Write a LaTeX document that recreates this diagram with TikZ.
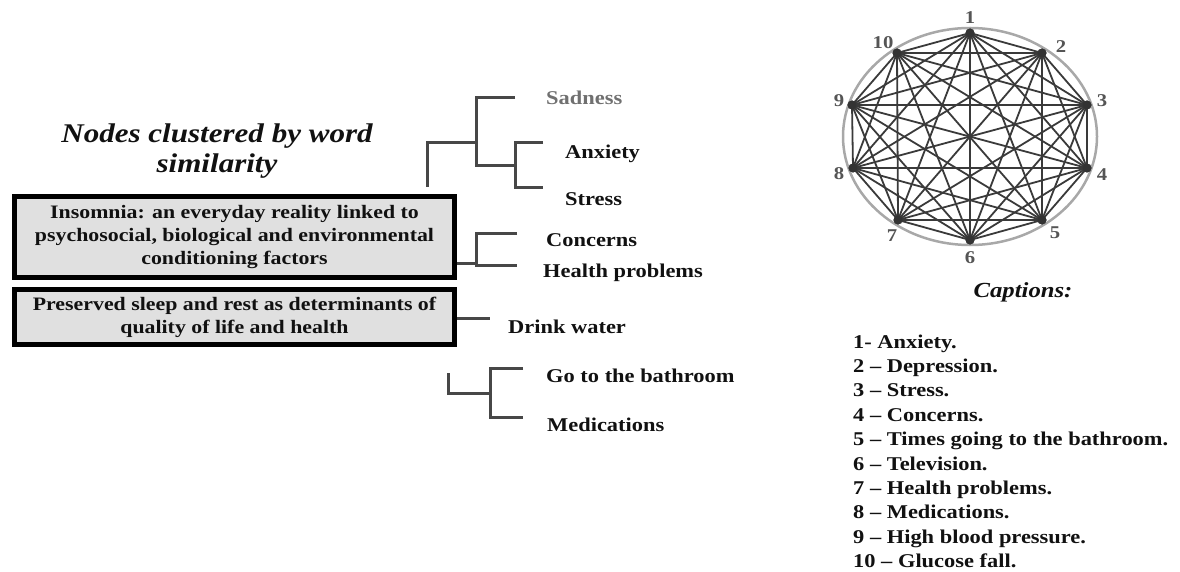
\documentclass[tikz,border=0pt]{standalone}
\usepackage{fontspec}
\setmainfont{Liberation Serif}[FakeStretch=1.15]
\definecolor{treegray}{HTML}{474747}
\definecolor{boxgray}{HTML}{E0E0E0}
\definecolor{edgegray}{HTML}{3A3A3A}
\definecolor{ellgray}{HTML}{A8A8A8}
\definecolor{numgray}{HTML}{555555}
\definecolor{sadgray}{HTML}{707070}
\definecolor{ink}{HTML}{111111}
\begin{document}
\begin{tikzpicture}[x=1pt,y=-1pt,
  lbl/.style={anchor=base west, inner sep=0pt, text=ink, font=\fontsize{19.5}{23}\selectfont\bfseries},
  tree/.style={draw=treegray, line width=3pt},
  box/.style={draw=black, line width=5pt, fill=boxgray, align=center, inner sep=0pt,
    minimum width=440pt, text=ink, font=\fontsize{19}{23}\selectfont\bfseries},
  ttl/.style={anchor=base, inner sep=0pt, text=ink, font=\fontsize{27}{32}\selectfont\bfseries\itshape},
  gnode/.style={circle, fill=black!80, inner sep=0pt, minimum size=9pt},
  edge/.style={draw=edgegray, line width=1.8pt},
  num/.style={inner sep=0pt, text=numgray, font=\fontsize{18}{20}\selectfont\bfseries}
]
\useasboundingbox (0,0) rectangle (1180,572);

% title
\node[ttl] (t1) at (217,143) {Nodes clustered by word};
\node[ttl] (t2) at (217,173) {similarity};

% boxes
\node[box, minimum height=81pt] (b1) at (234.5,237)
  {Insomnia: an everyday reality linked to\\psychosocial, biological and environmental\\conditioning factors};
\node[box, minimum height=55pt] (b2) at (234.5,317)
  {Preserved sleep and rest as determinants of\\quality of life and health};

% dendrogram
\coordinate (r0) at (427,187);
\coordinate (r1) at (476,143);
\coordinate (s0) at (515,98);
\coordinate (s1) at (476,166);
\coordinate (s2) at (515,166);
\coordinate (a0) at (543,143);
\coordinate (a1) at (515,188);
\coordinate (a2) at (543,188);
\draw[tree] (r0) |- (r1);
\draw[tree] (s0) -| (s1) -- (s2);
\draw[tree] (a0) -| (a1) -- (a2);

\coordinate (c0) at (517,233);
\coordinate (c1) at (476,265);
\coordinate (c2) at (517,265);
\coordinate (hp) at (476,263);
\draw[tree] (c0) -| (c1) -- (c2);
\draw[tree] (b1.east |- hp) -- (hp);

\coordinate (dw) at (490,318);
\draw[tree] (b2.east |- dw) -- (dw);

\coordinate (g0) at (448,373);
\coordinate (g1) at (490,393);
\coordinate (g2) at (523,368);
\coordinate (g3) at (490,417);
\coordinate (g4) at (523,417);
\draw[tree] (g0) |- (g1);
\draw[tree] (g2) -| (g3) -- (g4);

% dendrogram labels
\node[lbl, text=sadgray] (sad) at (546,104.5) {Sadness};
\node[lbl] (anx) at (565,159) {Anxiety};
\node[lbl] (str) at (565,205) {Stress};
\node[lbl] (con) at (546,246) {Concerns};
\node[lbl] (hea) at (543,277) {Health problems};
\node[lbl] (dri) at (508,333) {Drink water};
\node[lbl] (bat) at (546,382) {Go to the bathroom};
\node[lbl] (med) at (547,431) {Medications};

% network graph
\draw[ellgray, line width=2.5pt] (970,136.5) ellipse [x radius=127, y radius=108.5];
\foreach \i/\x/\y in {1/970/33, 2/1042/53, 3/1087/105, 4/1087/168, 5/1042/220,
                      6/970/240, 7/898/220, 8/853/168, 9/852/105, 10/897/53}
  \node[gnode] (n\i) at (\x,\y) {};
\foreach \i in {1,...,10}{
  \foreach \j in {1,...,10}{
    \ifnum\i<\j
      \draw[edge] (n\i.center) -- (n\j.center);
    \fi
  }
}
\foreach \i in {1,...,10}
  \fill[black!80] (n\i) circle (4.5);
\foreach \i/\x/\y in {1/970/18, 2/1061/47, 3/1102/101, 4/1102/175, 5/1055/233,
                      6/970/258, 7/892/236, 8/839/174, 9/839/101, 10/883/43}
  \node[num] (l\i) at (\x,\y) {\i};

% captions
\node[anchor=base, inner sep=0pt, text=ink, font=\fontsize{21.5}{25}\selectfont\bfseries\itshape]
  (cap) at (1023,297) {Captions:};
\foreach \t [count=\k] in {1- Anxiety., 2 – Depression., 3 – Stress., 4 – Concerns.,
   5 – Times going to the bathroom., 6 – Television., 7 – Health problems.,
   8 – Medications., 9 – High blood pressure., 10 – Glucose fall.}
  \node[lbl] (k\k) at (853,{348+24.4*(\k-1)}) {\t};
\end{tikzpicture}
\end{document}
